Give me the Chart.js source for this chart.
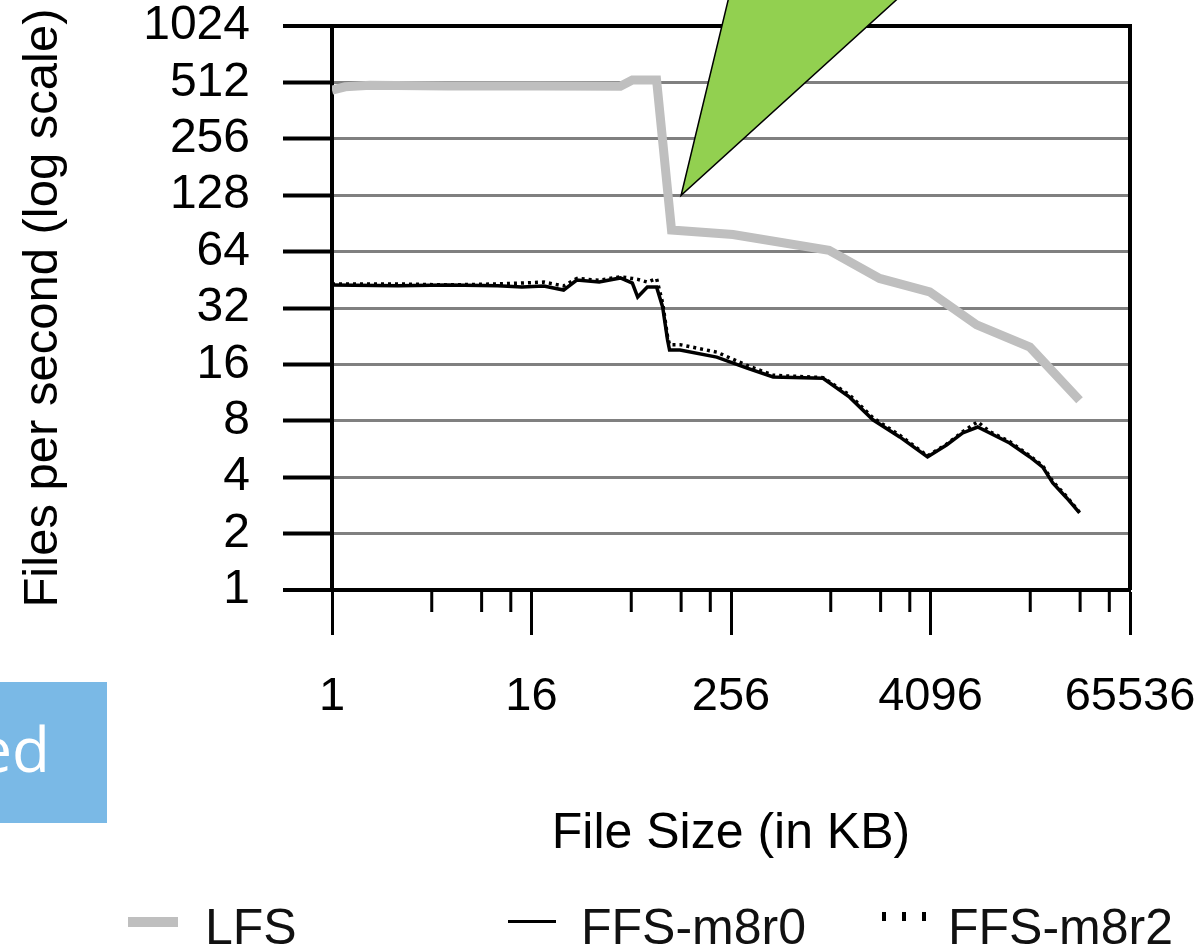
<!DOCTYPE html>
<html lang="en">
<head>
    <meta charset="UTF-8">
    <title>Files per second vs file size</title>
    <script src="https://cdn.jsdelivr.net/npm/chart.js"></script>
    <style>
        body { margin: 0; background: #fff; }
        #wrap { position: relative; width: 1200px; height: 952px; overflow: hidden; }
        #chart { position: absolute; left: 0; top: 0; }
        #blueBox { position: absolute; left: 0; top: 682px; width: 107px; height: 141px; background: #7ab9e6; overflow: hidden; }
        #blueBox span { position: absolute; right: 57px; top: 35px; font: 62px/62px 'Open Sans', sans-serif; color: #fff; white-space: nowrap; }
        .lg { position: absolute; font: 50px/50px 'Liberation Sans', Arial, sans-serif; color: #111; white-space: nowrap; }
        .mk { position: absolute; }
    </style>
</head>
<body>
<div id="wrap">
    <canvas id="chart" width="1200" height="952"></canvas>
    <div id="blueBox"><span>ed</span></div>
    <div id="legend"></div>
</div>

<script>
    // file sizes (KB) and rates
    const lfsSizeKB = [1, 1.2, 1.7, 5, 18, 55, 65, 91, 112, 263, 1000, 2020, 4050, 7780, 16300, 32500];
    const lfsRate = [465, 485, 495, 490, 490, 488, 527, 527, 83.5, 79, 65, 46, 39, 26, 19.8, 10.3];

    const ffsSizeKB = [1, 2.5, 5, 10, 14, 19, 25, 30, 41, 55, 65, 70, 80, 91, 99, 106, 109, 126, 210, 320, 460, 920,
        1330, 1840, 2670, 3930, 5120, 6410, 7890, 9330, 12300, 16300, 19500, 22400, 27200, 32500];
    const ffsM8r0Rate = [42.5, 42, 42.5, 42, 41.4, 41.9, 39.9, 45.1, 44, 46.3, 43.5, 36.6, 41.4, 41.4, 32.4, 21.6, 19.1, 19.1,
        17.5, 15.3, 13.7, 13.5, 10.7, 8.1, 6.56, 5.13, 5.94, 6.89, 7.41, 6.89, 6.09, 5.13, 4.53, 3.73, 3.1, 2.58];
    const ffsM8r2Rate = [43, 43, 42.5, 43, 43.5, 44, 42, 46, 45, 47, 46, 45.5, 44, 46, 34, 22.5, 20.4, 20.4,
        18.6, 15.8, 14, 13.6, 11, 8.3, 6.7, 5.2, 6, 7, 7.9, 7, 6.2, 5.2, 4.6, 3.8, 3.15, 2.6];

    const xTickValues = [1, 16, 256, 4096, 65536];
    const xMinorTicks = [4, 8, 12, 64, 128, 192, 1024, 2048, 3072, 16384, 32768, 49152];
    const yTickValues = [1, 2, 4, 8, 16, 32, 64, 128, 256, 512, 1024];
    const calloutAt = [128, 128];

    Chart.defaults.font.family = "'Liberation Sans', Arial, Helvetica, sans-serif";
    Chart.defaults.color = '#000';

    const toPoints = (xs, ys) => xs.map((x, i) => ({ x: x, y: ys[i] }));

    // labels may hang over the plot edge, don't let them shrink the plot
    const noOverhang = s => { s.paddingTop = 0; s.paddingBottom = 0; s.paddingLeft = 0; s.paddingRight = 0; };

    // minor x ticks, right frame line and the green callout
    const framePlugin = {
        id: 'frame',
        afterDraw(chart) {
            const { ctx, chartArea: a } = chart;
            const xs = chart.scales.x, ys = chart.scales.y;
            ctx.save();
            ctx.strokeStyle = '#000';
            ctx.lineWidth = 3;
            ctx.beginPath();
            xMinorTicks.forEach(v => {
                const px = xs.getPixelForValue(v);
                ctx.moveTo(px, a.bottom);
                ctx.lineTo(px, a.bottom + 22);
            });
            ctx.stroke();

            ctx.lineWidth = 4;
            ctx.beginPath();
            ctx.moveTo(a.right, a.top - 2);
            ctx.lineTo(a.right, a.bottom);
            ctx.stroke();

            const tx = xs.getPixelForValue(calloutAt[0]);
            const ty = ys.getPixelForValue(calloutAt[1]);
            const h = ty + 60;
            ctx.beginPath();
            ctx.moveTo(tx, ty);
            ctx.lineTo(tx + 0.241 * h, -60);
            ctx.lineTo(tx + 1.102 * h, -60);
            ctx.closePath();
            ctx.fillStyle = '#92d050';
            ctx.fill();
            ctx.lineWidth = 1.5;
            ctx.stroke();
            ctx.restore();
        }
    };

    const ctx = document.getElementById('chart').getContext('2d');
    const chart = new Chart(ctx, {
        type: 'line',
        data: {
            datasets: [
                {
                    label: 'LFS',
                    data: toPoints(lfsSizeKB, lfsRate),
                    borderColor: '#bfbfbf',
                    borderWidth: 9,
                    pointRadius: 0,
                    tension: 0
                },
                {
                    label: 'FFS-m8r0',
                    data: toPoints(ffsSizeKB, ffsM8r0Rate),
                    borderColor: '#000',
                    borderWidth: 3.5,
                    pointRadius: 0,
                    tension: 0
                },
                {
                    label: 'FFS-m8r2',
                    data: toPoints(ffsSizeKB, ffsM8r2Rate),
                    borderColor: '#000',
                    borderWidth: 3.5,
                    borderDash: [3, 4],
                    pointRadius: 0,
                    tension: 0
                }
            ]
        },
        options: {
            responsive: false,
            animation: false,
            layout: { padding: { top: 26, right: 70, bottom: 88, left: 0 } },
            plugins: {
                legend: { display: false },
                tooltip: { enabled: false }
            },
            scales: {
                x: {
                    type: 'logarithmic',
                    min: 1,
                    max: 65536,
                    afterBuildTicks: s => { s.ticks = xTickValues.map(v => ({ value: v })); },
                    afterFit: s => { s.height = 274; noOverhang(s); },
                    grid: {
                        drawOnChartArea: false,
                        tickLength: 45,
                        tickColor: '#000',
                        tickWidth: 3
                    },
                    border: { color: '#000', width: 4 },
                    ticks: {
                        autoSkip: false,
                        maxRotation: 0,
                        padding: 39,
                        font: { size: 47, lineHeight: 1 },
                        callback: v => String(v)
                    },
                    title: {
                        display: true,
                        text: 'File Size (in KB)',
                        font: { size: 50, lineHeight: 1.2 },
                        padding: 0
                    }
                },
                y: {
                    type: 'logarithmic',
                    min: 1,
                    max: 1024,
                    afterBuildTicks: s => { s.ticks = yTickValues.map(v => ({ value: v })); },
                    afterFit: s => { s.width = 332; noOverhang(s); },
                    grid: {
                        color: c => (c.tick && (c.tick.value === 1024 || c.tick.value === 1)) ? '#000' : '#808080',
                        lineWidth: c => (c.tick && (c.tick.value === 1024 || c.tick.value === 1)) ? 4 : 3,
                        tickLength: 49,
                        tickColor: '#000',
                        tickWidth: 4
                    },
                    border: { color: '#000', width: 4 },
                    ticks: {
                        padding: 33,
                        font: { size: 48, lineHeight: 1 },
                        callback: v => String(v)
                    },
                    title: {
                        display: true,
                        text: 'Files per second (log scale)',
                        font: { size: 49, lineHeight: 1.2 },
                        padding: { top: 14, bottom: 0 }
                    }
                }
            }
        },
        plugins: [framePlugin]
    });

    // legend laid out like the figure, built from the datasets
    const legendSpots = [
        { mark: 128, text: 205, style: 'top:917px;width:50px;height:10px;background:#bfbfbf;' },
        { mark: 508, text: 581, style: 'top:920px;width:48px;height:3px;background:#000;' },
        { mark: 882, text: 948, style: 'top:912px;width:44px;height:9px;background:repeating-linear-gradient(90deg,#000 0 4px,transparent 4px 20px);' }
    ];
    const legendEl = document.getElementById('legend');
    chart.data.datasets.forEach((ds, i) => {
        const spot = legendSpots[i];
        const mk = document.createElement('span');
        mk.className = 'mk';
        mk.style.cssText = 'left:' + spot.mark + 'px;' + spot.style;
        const tx = document.createElement('span');
        tx.className = 'lg';
        tx.style.left = spot.text + 'px';
        tx.style.top = '902px';
        tx.textContent = ds.label;
        legendEl.appendChild(mk);
        legendEl.appendChild(tx);
    });
</script>
</body>
</html>
